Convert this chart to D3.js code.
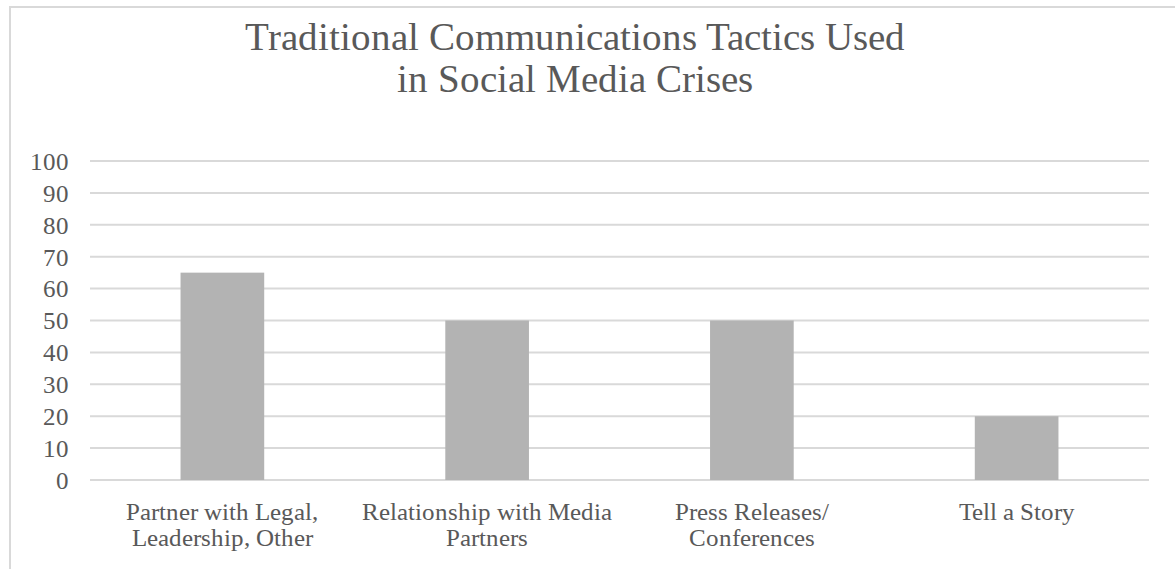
<!DOCTYPE html>
<html>
<head>
<meta charset="utf-8">
<script src="https://cdn.jsdelivr.net/npm/d3@7/dist/d3.min.js"></script>
<style>
  @font-face {
    font-family: "ChartSerif";
    src: local("Liberation Serif"), local("LiberationSerif"), local("LiberationSerif-Regular"), local("Liberation Serif Regular"), local("Times New Roman"), local("DejaVu Serif");
  }
  html, body { margin: 0; padding: 0; background: #fff; }
  svg { display: block; }
  svg text { font-family: "ChartSerif", "Liberation Serif", "Times New Roman", serif; fill: #595959; }
</style>
</head>
<body>
<script>
// Chart data
const categories = [
  ["Partner with Legal,", "Leadership, Other"],
  ["Relationship with Media", "Partners"],
  ["Press Releases/", "Conferences"],
  ["Tell a Story"]
];
const values = [65, 50, 50, 20];
const yTicks = [0, 10, 20, 30, 40, 50, 60, 70, 80, 90, 100];
const titleLines = ["Traditional Communications Tactics Used", "in Social Media Crises"];

const W = 1175, H = 569;
const plot = { left: 90, right: 1149, top: 161, bottom: 480 };

const svg = d3.select("body").append("svg")
  .attr("width", W).attr("height", H);

// Chart frame (extends past the right and bottom edges)
svg.append("rect")
  .attr("x", 10).attr("y", 7)
  .attr("width", W + 20).attr("height", H + 20)
  .attr("fill", "#fff")
  .attr("stroke", "#d9d9d9").attr("stroke-width", 2);

// Title
svg.append("text")
  .attr("text-anchor", "middle")
  .attr("font-size", 39)
  .selectAll("tspan").data(titleLines).join("tspan")
  .attr("x", 575)
  .attr("y", (d, i) => 50 + i * 42)
  .text(d => d);

const x = d3.scaleBand()
  .domain(d3.range(categories.length))
  .range([plot.left, plot.right])
  .paddingInner(0.684)
  .paddingOuter(0.342);

const y = d3.scaleLinear().domain([0, 100]).range([plot.bottom, plot.top]);

// Gridlines
svg.append("g")
  .selectAll("line").data(yTicks).join("line")
  .attr("x1", plot.left).attr("x2", plot.right)
  .attr("y1", d => y(d)).attr("y2", d => y(d))
  .attr("stroke", "#d9d9d9").attr("stroke-width", 2);

// Y axis labels
const yAxis = d3.axisLeft(y).tickValues(yTicks).tickSize(0).tickPadding(0);
const yg = svg.append("g")
  .attr("transform", `translate(69,0)`)
  .call(yAxis);
yg.select(".domain").remove();
yg.selectAll("text")
  .attr("font-size", 24.5)
  .attr("dy", "0.34em");

// Bars
svg.append("g")
  .selectAll("rect").data(values).join("rect")
  .attr("x", (d, i) => x(i))
  .attr("width", x.bandwidth())
  .attr("y", d => y(d))
  .attr("height", d => y(0) - y(d))
  .attr("fill", "#b3b3b3");

// Category labels
const xg = svg.append("g");
const lbl = xg.selectAll("text").data(categories).join("text")
  .attr("text-anchor", "middle")
  .attr("font-size", 24.5);
lbl.selectAll("tspan").data((d, i) => d.map(s => ({ s, i }))).join("tspan")
  .attr("x", d => x(d.i) + x.bandwidth() / 2)
  .attr("y", (d, j) => 520 + j * 26)
  .text(d => d.s);
</script>
</body>
</html>
